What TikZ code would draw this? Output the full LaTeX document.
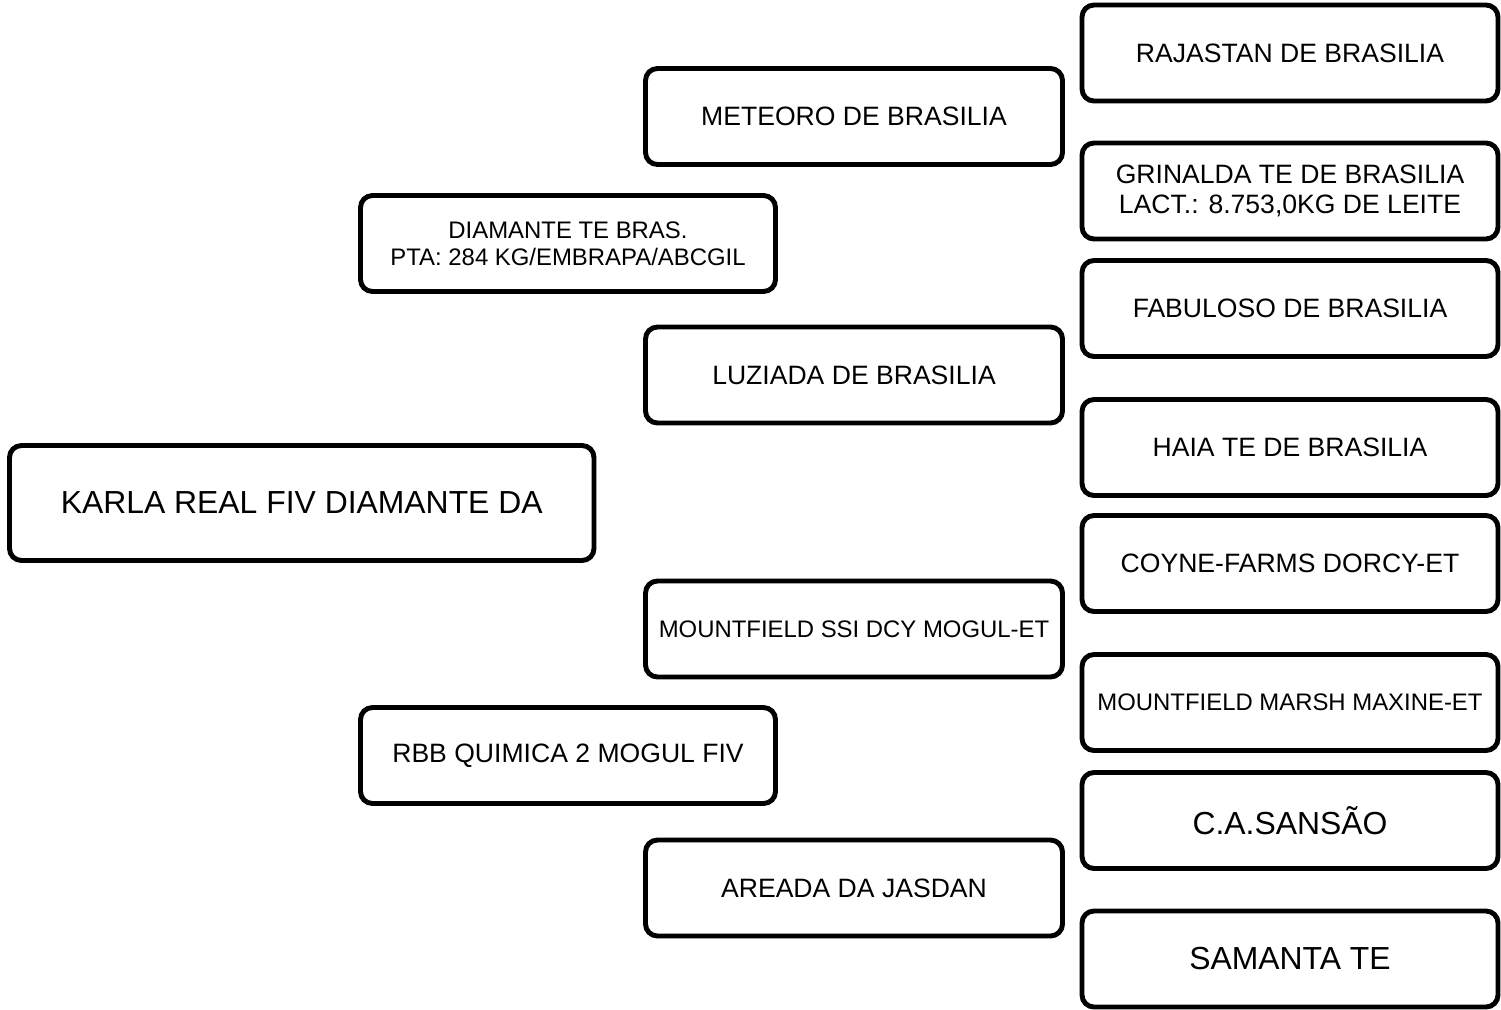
\documentclass[tikz,border=0pt]{standalone}
\usepackage{fontspec}
\setmainfont{Liberation Sans}
\usetikzlibrary{positioning}

\begin{document}
\begin{tikzpicture}[
    pbox/.style={draw, rectangle, rounded corners=0.12cm, line width=1.4pt, align=center, inner sep=0pt, minimum height=0.96cm},
    small/.style={font=\fontsize{6.8}{7.7}\selectfont},
    medium/.style={font=\fontsize{7.56}{8.5}\selectfont},
    large/.style={font=\fontsize{9.07}{10.5}\selectfont}]
  \useasboundingbox (0,0) rectangle (15.01,10.09);

  % animal
  \node[pbox, large, minimum width=5.845cm, minimum height=1.15cm] (karla) at (3.0175,5.06) {KARLA REAL FIV DIAMANTE DA};

  % parents
  \node[pbox, small, minimum width=4.15cm] (diamante) at (5.68,7.655) {DIAMANTE TE BRAS.\\PTA: 284 KG/EMBRAPA/ABCGIL};
  \node[pbox, medium, minimum width=4.15cm] (quimica) at (5.68,2.535) {RBB QUIMICA 2 MOGUL FIV};

  % grandparents
  \node[pbox, medium, minimum width=4.17cm] (meteoro) at (8.54,8.925) {METEORO DE BRASILIA};
  \node[pbox, medium, minimum width=4.17cm] (luziada) at (8.54,6.34) {LUZIADA DE BRASILIA};
  \node[pbox, small, minimum width=4.17cm] (mogul) at (8.54,3.80) {MOUNTFIELD SSI DCY MOGUL-ET};
  \node[pbox, medium, minimum width=4.17cm] (areada) at (8.54,1.21) {AREADA DA JASDAN};

  % great-grandparents
  \node[pbox, medium, minimum width=4.16cm] (rajastan) at (12.90,9.56) {RAJASTAN DE BRASILIA};
  \node[pbox, medium, minimum width=4.16cm] (grinalda) at (12.90,8.18) {GRINALDA TE DE BRASILIA\\LACT.: 8.753,0KG DE LEITE};
  \node[pbox, medium, minimum width=4.16cm] (fabuloso) at (12.90,7.005) {FABULOSO DE BRASILIA};
  \node[pbox, medium, minimum width=4.16cm] (haia) at (12.90,5.615) {HAIA TE DE BRASILIA};
  \node[pbox, medium, minimum width=4.16cm] (coyne) at (12.90,4.455) {COYNE-FARMS DORCY-ET};
  \node[pbox, small, minimum width=4.16cm] (maxine) at (12.90,3.065) {MOUNTFIELD MARSH MAXINE-ET};
  \node[pbox, large, minimum width=4.16cm] (sansao) at (12.90,1.885) {C.A.SANSÃO};
  \node[pbox, large, minimum width=4.16cm] (samanta) at (12.90,0.50) {SAMANTA TE};
\end{tikzpicture}
\end{document}
